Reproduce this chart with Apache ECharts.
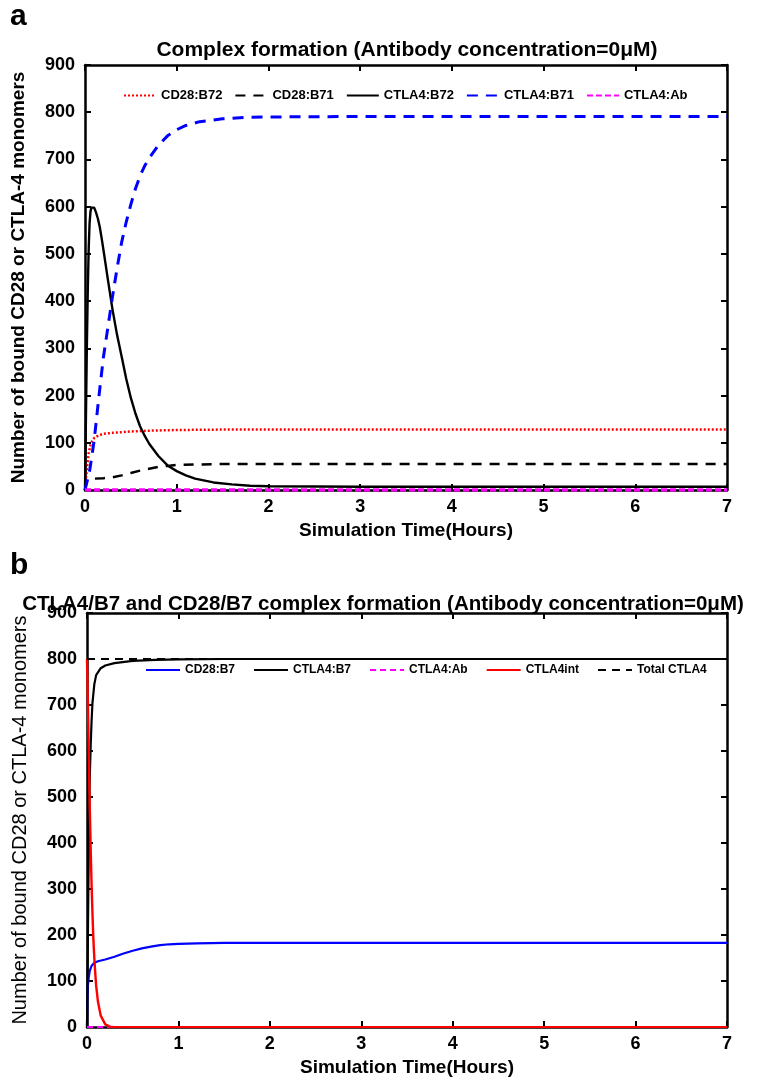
<!DOCTYPE html>
<html>
<head>
<meta charset="utf-8">
<script src="https://cdn.jsdelivr.net/npm/echarts/dist/echarts.min.js"></script>
<style>
html,body{margin:0;padding:0;background:#fff;}
#a{position:absolute;left:0;top:0;width:772px;height:545px;}
#b{position:absolute;left:0;top:545px;width:772px;height:537px;}
</style>
</head>
<body>
<div id="a"></div>
<div id="b"></div>
<script>
// ---------- Panel a data ----------
const titleA = 'Complex formation (Antibody concentration=0μM)';
const titleB = 'CTLA4/B7 and CD28/B7 complex formation (Antibody concentration=0μM)';
const xTitle = 'Simulation Time(Hours)';
const yTitle = 'Number of bound CD28 or CTLA-4 monomers';
const xTicks = [0, 1, 2, 3, 4, 5, 6, 7];
const yTicks = [0, 100, 200, 300, 400, 500, 600, 700, 800, 900];

const namesA = ['CD28:B72', 'CD28:B71', 'CTLA4:B72', 'CTLA4:B71', 'CTLA4:Ab'];

const t_cd28b72 = [0, 0.02, 0.04, 0.06, 0.08, 0.1, 0.15, 0.2, 0.3, 0.5, 0.75, 1, 1.5, 2, 3, 7];
const v_cd28b72 = [0, 45, 78, 95, 104, 110, 116, 119, 121, 124, 126, 127, 128, 128, 128, 128];

const t_cd28b71 = [0, 0.02, 0.04, 0.1, 0.2, 0.3, 0.4, 0.5, 0.6, 0.7, 0.8, 0.9, 1.0, 1.2, 1.5, 2, 7];
const v_cd28b71 = [0, 20, 23, 24, 25, 27, 31, 36, 41, 45, 49, 51, 53, 54, 55, 55, 55];

const t_ctla4b72 = [0, 0.01, 0.02, 0.03, 0.04, 0.05, 0.06, 0.07, 0.08, 0.09, 0.1, 0.11, 0.12, 0.14, 0.16, 0.18, 0.2, 0.25, 0.3, 0.35, 0.4, 0.45, 0.5, 0.55, 0.6, 0.65, 0.7, 0.8, 0.9, 1.0, 1.1, 1.2, 1.4, 1.6, 1.8, 2.0, 3, 7];
const v_ctla4b72 = [0, 150, 300, 420, 510, 565, 590, 598, 600, 600, 598, 594, 588, 575, 558, 535, 510, 445, 382, 328, 282, 235, 195, 162, 135, 115, 98, 72, 52, 40, 31, 24, 16, 12, 9, 8, 7, 7];

const t_ctla4b71 = [0, 0.05, 0.1, 0.15, 0.2, 0.25, 0.3, 0.35, 0.4, 0.45, 0.5, 0.55, 0.6, 0.65, 0.7, 0.8, 0.9, 1.0, 1.1, 1.25, 1.5, 1.75, 2, 3, 7];
const v_ctla4b71 = [0, 40, 105, 195, 280, 345, 410, 470, 525, 568, 605, 638, 665, 686, 703, 730, 750, 763, 772, 780, 786, 789, 790, 791, 791];

const t_ab_a = [0, 7];
const v_ab_a = [0, 0];

// ---------- Panel b data ----------
const namesB = ['CD28:B7', 'CTLA4:B7', 'CTLA4:Ab', 'CTLA4int', 'Total CTLA4'];

const t_cd28b7 = [0, 0.003, 0.01, 0.02, 0.03, 0.05, 0.08, 0.12, 0.2, 0.3, 0.4, 0.5, 0.6, 0.7, 0.8, 0.9, 1, 1.2, 1.5, 2, 7];
const v_cd28b7 = [0, 60, 90, 110, 122, 133, 140, 143, 147, 153, 160, 166, 171, 175, 178, 180, 181, 182, 183, 183, 183];

const t_ctla4b7 = [0, 0.01, 0.02, 0.03, 0.04, 0.05, 0.06, 0.08, 0.1, 0.15, 0.2, 0.3, 0.5, 0.75, 1, 1.5, 7];
const v_ctla4b7 = [0, 200, 400, 540, 610, 665, 705, 745, 765, 780, 786, 791, 796, 798, 799, 800, 800];

const t_ab_b = [0, 7];
const v_ab_b = [0, 0];

const t_int = [0, 0.01, 0.02, 0.03, 0.04, 0.05, 0.06, 0.07, 0.08, 0.09, 0.1, 0.12, 0.15, 0.2, 0.25, 0.3, 7];
const v_int = [800, 700, 590, 480, 390, 310, 245, 190, 150, 118, 90, 55, 25, 6, 1, 0, 0];

const t_total = [0, 7];
const v_total = [800, 800];

// ---------- helpers ----------
const SANS = '"Liberation Sans", Arial, sans-serif';
const pairs = (t, v) => t.map((x, i) => [x, v[i]]);

function axes(nameGapY, yTitleWeight, yTitleSize) {
  const line = { onZero: false, lineStyle: { color: '#000', width: 2.5 } };
  const tick = { inside: true, length: 6, lineStyle: { color: '#000', width: 2 } };
  const lbl = { fontFamily: SANS, fontWeight: 'bold', fontSize: 18, color: '#000' };
  return {
    xAxis: [
      { type: 'value', min: xTicks[0], max: xTicks[xTicks.length - 1], interval: 1, position: 'bottom',
        axisLine: line, axisTick: tick, splitLine: { show: false },
        axisLabel: Object.assign({ margin: 8 }, lbl),
        name: xTitle, nameLocation: 'middle', nameGap: 25,
        nameTextStyle: { fontFamily: SANS, fontWeight: 'bold', fontSize: 19, color: '#000' } },
      { type: 'value', min: xTicks[0], max: xTicks[xTicks.length - 1], interval: 1, position: 'top',
        axisLine: line, axisTick: tick, splitLine: { show: false }, axisLabel: { show: false } }
    ],
    yAxis: [
      { type: 'value', min: yTicks[0], max: yTicks[yTicks.length - 1], interval: 100, position: 'left',
        axisLine: line, axisTick: tick, splitLine: { show: false },
        axisLabel: Object.assign({ margin: 10 }, lbl),
        name: yTitle, nameLocation: 'middle', nameGap: nameGapY, nameRotate: 90,
        nameTextStyle: { fontFamily: SANS, fontWeight: yTitleWeight, fontSize: yTitleSize, color: '#000' } },
      { type: 'value', min: yTicks[0], max: yTicks[yTicks.length - 1], interval: 100, position: 'right',
        axisLine: line, axisTick: tick, splitLine: { show: false }, axisLabel: { show: false } }
    ]
  };
}

function ser(name, data, color, width, type, z) {
  return { name, type: 'line', data, symbol: 'none', showSymbol: false, smooth: false,
    lineStyle: { color, width, type }, itemStyle: { color }, z: z, animation: false };
}

// ---------- Panel a ----------
const axA = axes(57, 'bold', 19);
const chartA = echarts.init(document.getElementById('a'), null, { renderer: 'canvas' });
chartA.setOption({
  animation: false,
  backgroundColor: '#fff',
  title: { text: titleA, left: 402, top: 35, textAlign: 'center',
    textStyle: { fontFamily: SANS, fontWeight: 'bold', fontSize: 21, color: '#000' } },
  graphic: [{ type: 'text', left: 10, top: 2, style: { text: 'a', fontFamily: SANS, fontWeight: 'bold', fontSize: 30, fill: '#000' } }],
  grid: { left: 85, top: 65, width: 642, height: 425 },
  xAxis: axA.xAxis, yAxis: axA.yAxis,
  legend: { data: namesA, top: 84, left: 118, itemWidth: 32, itemHeight: 12, itemGap: 12,
    itemStyle: { opacity: 0 },
    textStyle: { fontFamily: SANS, fontWeight: 'bold', fontSize: 13, color: '#000' } },
  series: [
    ser(namesA[0], pairs(t_cd28b72, v_cd28b72), '#ff0000', 2.5, [2, 2], 2),
    ser(namesA[1], pairs(t_cd28b71, v_cd28b71), '#000000', 2.5, [10, 8], 3),
    ser(namesA[2], pairs(t_ctla4b72, v_ctla4b72), '#000000', 2.4, 'solid', 4),
    ser(namesA[3], pairs(t_ctla4b71, v_ctla4b71), '#0000ff', 3, [11, 8], 5),
    ser(namesA[4], pairs(t_ab_a, v_ab_a), '#ff00ff', 3.5, [6, 3], 6)
  ]
});

// ---------- Panel b ----------
const axB = axes(57, 'normal', 20);
const chartB = echarts.init(document.getElementById('b'), null, { renderer: 'canvas' });
chartB.setOption({
  animation: false,
  backgroundColor: '#fff',
  title: { text: titleB, left: 378, top: 44, textAlign: 'center',
    textStyle: { fontFamily: SANS, fontWeight: 'bold', fontSize: 20.5, color: '#000' } },
  graphic: [{ type: 'text', left: 10, top: 6, style: { text: 'b', fontFamily: SANS, fontWeight: 'bold', fontSize: 30, fill: '#000' } }],
  grid: { left: 87, top: 68, width: 640, height: 440 },
  xAxis: axB.xAxis, yAxis: axB.yAxis,
  legend: { data: namesB, top: 114, left: 140, itemWidth: 34, itemHeight: 12, itemGap: 18,
    itemStyle: { opacity: 0 },
    textStyle: { fontFamily: SANS, fontWeight: 'bold', fontSize: 12, color: '#000' } },
  series: [
    ser(namesB[0], pairs(t_cd28b7, v_cd28b7), '#0000ff', 2.2, 'solid', 2),
    ser(namesB[1], pairs(t_ctla4b7, v_ctla4b7), '#000000', 2.2, 'solid', 3),
    ser(namesB[2], pairs(t_ab_b, v_ab_b), '#ff00ff', 2.2, [6, 4], 4),
    ser(namesB[3], pairs(t_int, v_int), '#ff0000', 2.4, 'solid', 5),
    ser(namesB[4], pairs(t_total, v_total), '#000000', 2.2, [8, 6], 6)
  ]
});
</script>
</body>
</html>
